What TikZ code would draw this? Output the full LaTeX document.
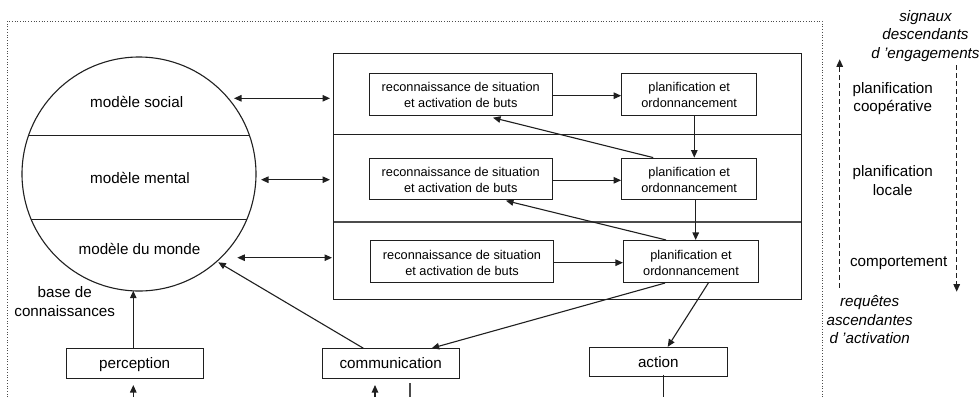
\documentclass[tikz,border=0pt]{standalone}
\usepackage{fontspec}
\setmainfont{Liberation Sans}
\usetikzlibrary{arrows.meta}
\newcommand\tstrut{\rule{0pt}{11.3pt}}
\tikzset{
  tipa/.tip={Triangle[length=7.5pt,width=6.5pt]},
  ln/.style={line width=1.1pt,draw=black!88},
  arr/.style={ln,-tipa},
  dbl/.style={ln,tipa-tipa},
  dsh/.style={line width=1.1pt,draw=black!88,dash pattern=on 4.5pt off 3.5pt,-tipa},
  smallbox/.style={draw=black!88,line width=1.1pt,fill=white,inner sep=0pt,align=center,font=\fontsize{12.75}{16}\selectfont},
  iobox/.style={draw=black!88,line width=1.1pt,inner sep=0pt,text height=13pt,text depth=3pt,align=center,font=\fontsize{15.2}{19}\selectfont},
  lab/.style={inner sep=0pt,align=center,font=\fontsize{15.2}{18.7}\selectfont},
  itlab/.style={inner sep=0pt,align=center,font=\fontsize{15.2}{18.7}\selectfont\itshape},
}
\begin{document}
\begin{tikzpicture}[x=1pt,y=-1pt]
\useasboundingbox (0,0) rectangle (980,397);
% dotted frame
\coordinate (fbl) at (7.3,397); \coordinate (ftl) at (7.3,21); \coordinate (ftr) at (822,21); \coordinate (fbr) at (822,397);
\draw[line width=0.7pt,black!70,dotted] (fbl) -- (ftl) -- (ftr) -- (fbr);
% circle
\node[circle,draw=black!88,line width=1.1pt,minimum size=234pt,inner sep=0pt] (kb) at (139,174) {};
\coordinate (c1l) at (28,135.5); \coordinate (c1r) at (249.5,135.5);
\coordinate (c2l) at (31,219.5); \coordinate (c2r) at (246.5,219.5);
\draw[ln] (c1l) -- (c1r); \draw[ln] (c2l) -- (c2r);
\node[lab] (msoc) at (136.7,101.7) {modèle social};
\node[lab] (mmen) at (140,178) {modèle mental};
\node[lab] (mmon) at (139.5,249) {modèle du monde};
\node[lab] (base) at (64.7,301.5) {base de\\connaissances};
% big rectangle
\node[draw=black!88,line width=1.1pt,inner sep=0pt,minimum width=467.3pt,minimum height=245.7pt] (layers) at (567.4,176.2) {};
\coordinate (d1l) at (333.7,134.5); \coordinate (d1r) at (801,134.5);
\coordinate (d2l) at (333.7,222) ; \coordinate (d2r) at (801,222);
\draw[ln] (d1l) -- (d1r); \draw[ln,draw=black!70] (d2l) -- (d2r);
% inner boxes
\node[smallbox,minimum width=182.7pt,minimum height=41.7pt] (r1) at (460.7,94.2) {\tstrut reconnaissance de situation\\et activation de buts};
\node[smallbox,minimum width=182.7pt,minimum height=41.7pt] (r2) at (460.7,179) {\tstrut reconnaissance de situation\\et activation de buts};
\node[smallbox,minimum width=182.7pt,minimum height=41.7pt] (r3) at (462,261.5) {\tstrut reconnaissance de situation\\et activation de buts};
\node[smallbox,minimum width=135pt,minimum height=41.7pt] (p1) at (689.2,94.2) {\tstrut planification et\\ordonnancement};
\node[smallbox,minimum width=135pt,minimum height=41.7pt] (p2) at (689.2,179) {\tstrut planification et\\ordonnancement};
\node[smallbox,minimum width=135pt,minimum height=42pt] (p3) at (691,261.5) {\tstrut planification et\\ordonnancement};
% bottom boxes
\node[iobox,minimum width=137.3pt,minimum height=29.3pt] (perc) at (134.7,363.4) {perception};
\node[iobox,minimum width=137.3pt,minimum height=29.3pt] (comm) at (390.7,363.4) {communication};
\node[iobox,minimum width=138pt,minimum height=29.3pt] (act) at (658.3,362) {action};
% horizontal flows
\draw[arr] ([yshift=-1.5pt]r1.east) -- ([yshift=-1.5pt]p1.west);
\draw[arr] ([yshift=-1.3pt]r2.east) -- ([yshift=-1.3pt]p2.west);
\draw[arr] ([yshift=-1.2pt]r3.east) -- ([yshift=-1.2pt]p3.west);
% vertical flows
\draw[arr] ([xshift=5.1pt]p1.south) -- ([xshift=5.1pt]p2.north);
\draw[arr] ([xshift=6.5pt]p2.south) -- ([xshift=4.7pt]p3.north);
% returns
\coordinate (t1) at (493,117.7); \coordinate (t2) at (506,200.7);
\draw[arr] ([xshift=-36pt]p2.north) -- (t1);
\draw[arr] ([xshift=-25pt]p3.north) -- (t2);
% outputs
\draw[arr] ([xshift=-26pt]p3.south) -- ([xshift=41pt]comm.north);
\draw[arr] ([xshift=17.3pt]p3.south) -- ([xshift=9.4pt]act.north);
% to the model
\coordinate (kbp) at (133.3,290.7); \coordinate (kbc) at (218.3,262.3);
\draw[arr] ([xshift=-1.4pt]perc.north) -- (kbp);
\draw[arr] ([xshift=-27.4pt]comm.north) -- (kbc);
% double arrows
\coordinate (a1) at (234,98.3); \coordinate (b1) at (330,98.3);
\coordinate (a2) at (261,179.7); \coordinate (b2) at (330,179.7);
\coordinate (a3) at (237.3,257.7); \coordinate (b3) at (332,257.7);
\draw[dbl] (a1) -- (b1); \draw[dbl] (a2) -- (b2); \draw[dbl] (a3) -- (b3);
% bottom stubs
\coordinate (s1) at (133.3,397); \coordinate (s1e) at (133.3,385);
\coordinate (s2) at (375,397); \coordinate (s2e) at (375,385);
\coordinate (s3) at (410,383); \coordinate (s3e) at (410,397);
\coordinate (s4e) at (663.3,397);
\draw[arr] (s1) -- (s1e);
\draw[arr] (s2) -- (s2e);
\draw[ln,draw=black!70] (s3) -- (s3e);
\draw[ln] ([xshift=5pt,yshift=2.5pt]act.south) -- (s4e);
% side arrows
\coordinate (u1) at (839.7,287.7); \coordinate (u2) at (839.7,59.3);
\coordinate (v1) at (956.7,65); \coordinate (v2) at (956.7,291.7);
\draw[dsh] (u1) -- (u2);
\draw[dsh] (v1) -- (v2);
% side labels
\node[lab] (pc) at (892.7,98.5) {planification\\coopérative};
\node[lab] (pl) at (892.7,180.5) {planification\\locale};
\node[lab,text height=12pt,text depth=3pt] (cp) at (898.7,262) {comportement};
\node[itlab] (sg) at (925.5,36) {signaux\\descendants\\d 'engagements};
\node[itlab] (rq) at (869.7,319.7) {requêtes\\ascendantes\\d 'activation};
\end{tikzpicture}
\end{document}
